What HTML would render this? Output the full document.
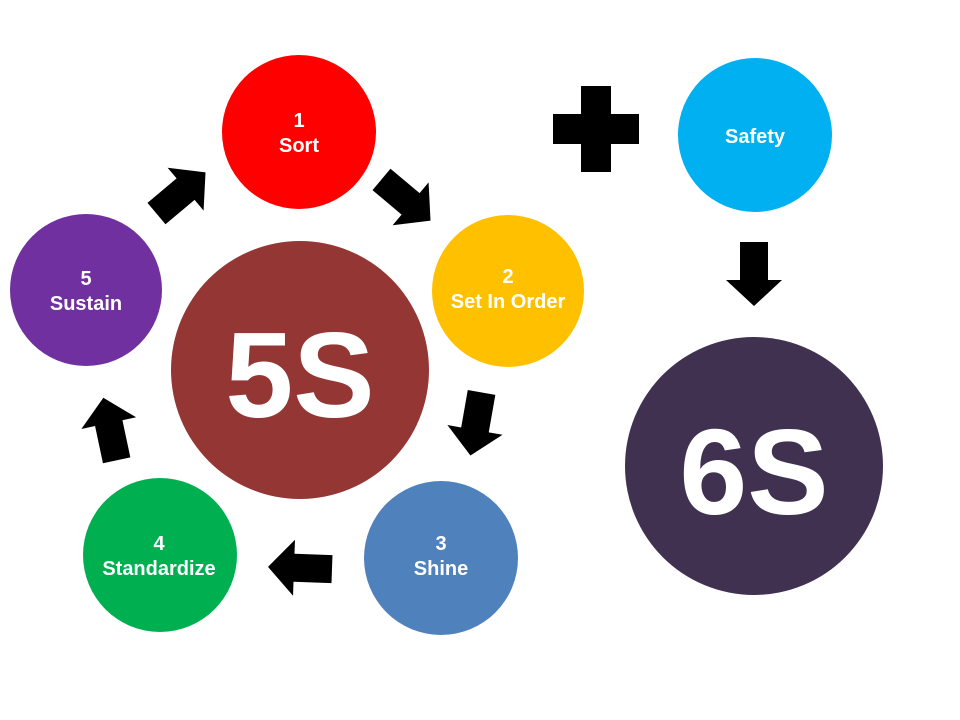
<!DOCTYPE html>
<html><head><meta charset="utf-8"><style>
html,body{margin:0;padding:0;background:#fff;}
svg{display:block;}
text{font-family:"Liberation Sans",Arial,sans-serif;font-weight:bold;fill:#fff;text-anchor:middle;}
</style></head><body>
<svg width="960" height="720" viewBox="0 0 960 720">
<defs>
<path id="ar" d="M-32,-14 L6,-14 L6,-28 L32,0 L6,28 L6,14 L-32,14 Z" fill="#000"/>
</defs>
<circle cx="299" cy="132" r="77" fill="#ff0000"/>
<circle cx="508" cy="291" r="76" fill="#ffc000"/>
<circle cx="441" cy="558" r="77" fill="#4f81bd"/>
<circle cx="160" cy="555" r="77" fill="#00b050"/>
<circle cx="86" cy="290" r="76" fill="#7030a0"/>
<circle cx="300" cy="370" r="129" fill="#943634"/>
<circle cx="755" cy="135" r="77" fill="#00b0f0"/>
<circle cx="754" cy="466" r="129" fill="#403151"/>

<use href="#ar" transform="translate(181,193) rotate(-40)"/>
<use href="#ar" transform="translate(406,200) rotate(40)"/>
<use href="#ar" transform="translate(476,424) rotate(100)"/>
<use href="#ar" transform="translate(300,568) rotate(182)"/>
<use href="#ar" transform="translate(110,429) rotate(-102)"/>
<use href="#ar" transform="translate(754,274) rotate(90)"/>

<rect x="553" y="114" width="86" height="30" fill="#000"/>
<rect x="581" y="86" width="30" height="86" fill="#000"/>

<text x="299" y="127" font-size="20">1</text>
<text x="299" y="152" font-size="20">Sort</text>
<text x="508" y="283" font-size="20">2</text>
<text x="508" y="308" font-size="20">Set In Order</text>
<text x="441" y="550" font-size="20">3</text>
<text x="441" y="575" font-size="20">Shine</text>
<text x="159" y="550" font-size="20">4</text>
<text x="159" y="575" font-size="20">Standardize</text>
<text x="86" y="285" font-size="20">5</text>
<text x="86" y="310" font-size="20">Sustain</text>
<text x="755" y="143" font-size="20">Safety</text>
<text x="300" y="417" font-size="122">5S</text>
<text x="754" y="514" font-size="122">6S</text>
</svg>
</body></html>
